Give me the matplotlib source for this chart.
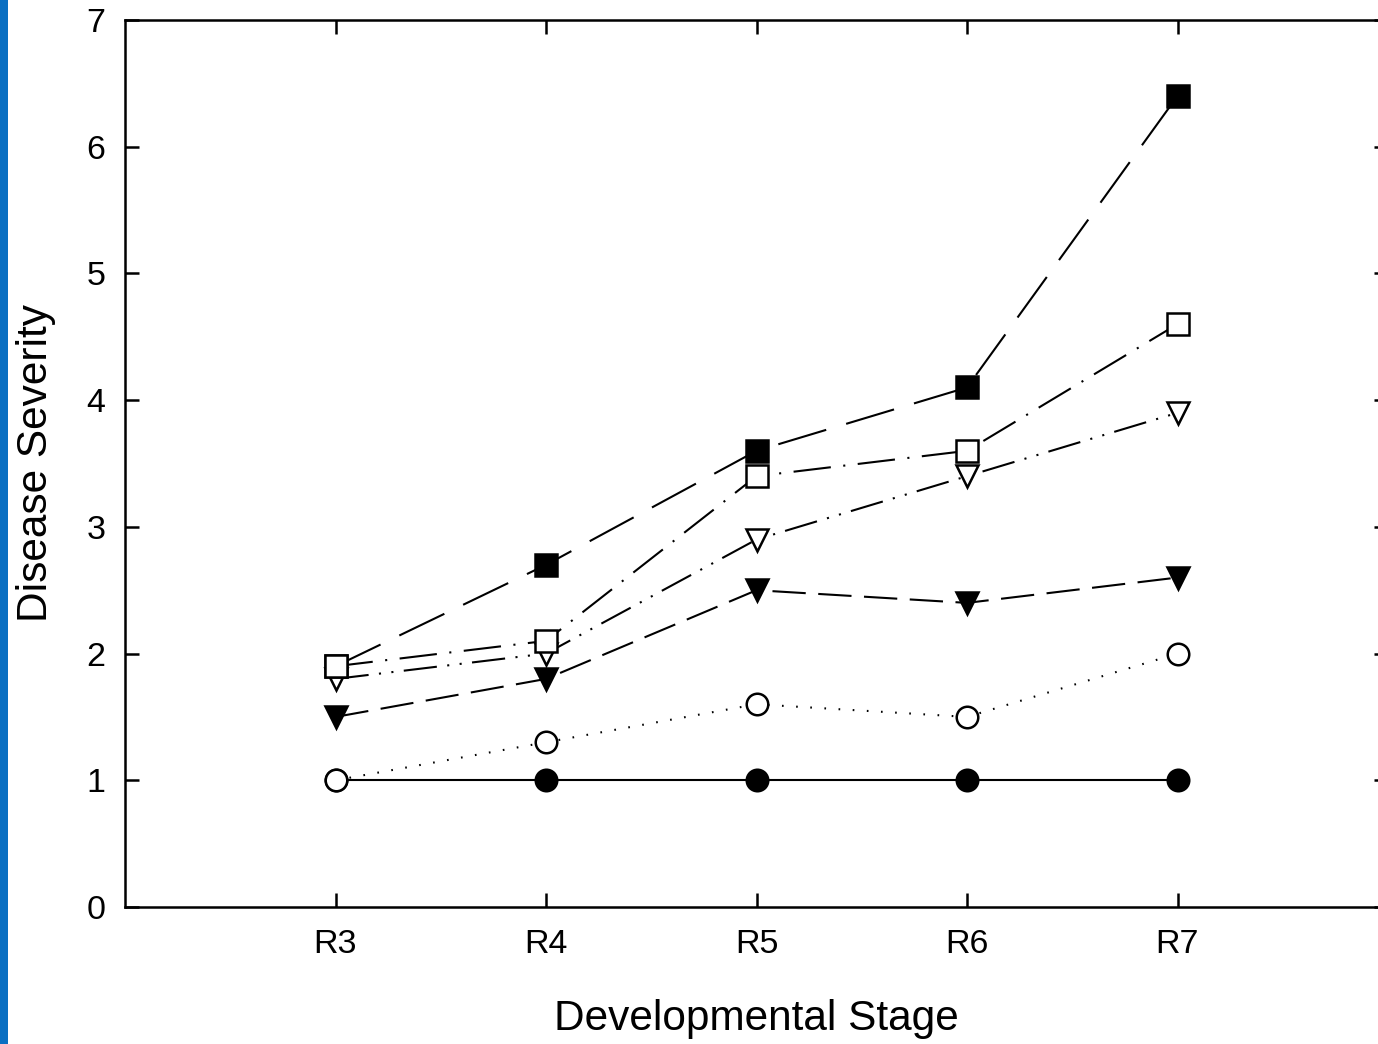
import matplotlib.pyplot as plt
from matplotlib.patches import Rectangle

plt.rcParams['font.family'] = ['Liberation Sans', 'DejaVu Sans']

# data
stages = ['R3', 'R4', 'R5', 'R6', 'R7']
x = [3, 4, 5, 6, 7]
filled_circle = [1.0, 1.0, 1.0, 1.0, 1.0]
open_circle = [1.0, 1.3, 1.6, 1.5, 2.0]
filled_tri = [1.5, 1.8, 2.5, 2.4, 2.6]
open_tri = [1.8, 2.0, 2.9, 3.4, 3.9]
open_square = [1.9, 2.1, 3.4, 3.6, 4.6]
filled_square = [1.9, 2.7, 3.6, 4.1, 6.4]

fig = plt.figure(figsize=(13.78, 10.44), dpi=100)
ax = fig.add_axes([125/1378, 137/1044, 1263/1378, 887/1044])

# blue strip on the left edge
fig.patches.append(Rectangle((0, 0), 8/1378, 1, transform=fig.transFigure,
                             facecolor='#0a6fc2', edgecolor='none'))

lw = 1.5
ms = 15.5
common = dict(color='black', lw=lw, markersize=ms, markeredgewidth=1.8,
              markeredgecolor='black', clip_on=False)

ax.plot(x, filled_circle, '-', marker='o', markerfacecolor='black', zorder=3, **common)
ax.plot(x, open_circle, marker='o', markerfacecolor='white', dashes=(0.8, 6),
        zorder=4, **common)
ax.plot(x, filled_tri, marker='v', markerfacecolor='black', dashes=(16, 6),
        zorder=3, **common)
ax.plot(x, open_tri, marker='v', markerfacecolor='white',
        dashes=(16, 5, 1, 5, 1, 5), zorder=4, **common)
ax.plot(x, filled_square, marker='s', markerfacecolor='black', dashes=(24, 10),
        zorder=5, **common)
ax.plot(x, open_square, marker='s', markerfacecolor='white',
        dashes=(18, 6, 1, 6), zorder=6, **common)

ax.set_xlim(2, 8)
ax.set_ylim(0, 7)
ax.set_xticks(x)
ax.set_xticklabels(stages)
ax.set_yticks(range(0, 8))

ax.tick_params(direction='in', length=10, width=1.8, labelsize=24.5,
               top=True, right=True)
ax.tick_params(axis='x', pad=16)
ax.tick_params(axis='y', pad=14)
for s in ax.spines.values():
    s.set_linewidth(1.8)

ax.set_xlabel('Developmental Stage', fontsize=30.5, labelpad=28)
ax.set_ylabel('Disease Severity', fontsize=30.5, labelpad=22)

fig.savefig('out.png', dpi=100)
